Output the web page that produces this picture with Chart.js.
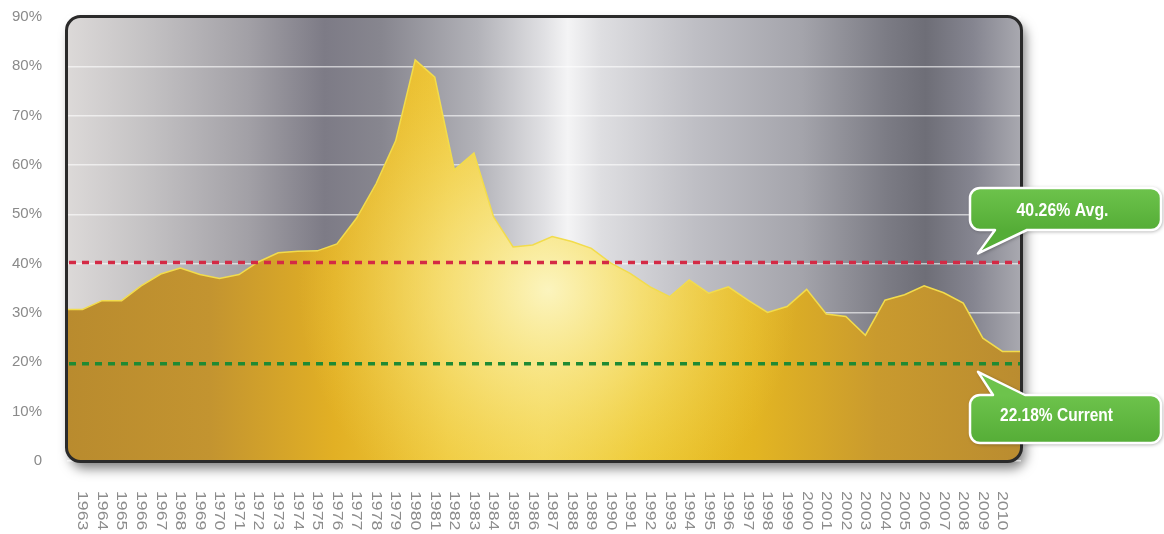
<!DOCTYPE html>
<html>
<head>
<meta charset="utf-8">
<title>Rate history 1963-2010</title>
<script src="https://cdn.jsdelivr.net/npm/chart.js@4.4.0/dist/chart.umd.min.js"></script>
<style>
  html, body { margin: 0; padding: 0; background: #fff; }
  #wrap { width: 1164px; height: 534px; }
</style>
</head>
<body>
<div id="wrap"><canvas id="chart" width="1164" height="534"></canvas></div>
<script>
const years = [1963, 1964, 1965, 1966, 1967, 1968, 1969, 1970, 1971, 1972,
  1973, 1974, 1975, 1976, 1977, 1978, 1979, 1980, 1981, 1982,
  1983, 1984, 1985, 1986, 1987, 1988, 1989, 1990, 1991, 1992,
  1993, 1994, 1995, 1996, 1997, 1998, 1999, 2000, 2001, 2002,
  2003, 2004, 2005, 2006, 2007, 2008, 2009, 2010];

const values = [30.7, 32.5, 32.5, 35.5, 37.9, 39.1, 37.8, 37.0, 37.8, 40.4,
  42.2, 42.5, 42.6, 44.0, 49.2, 56.2, 64.9, 81.3, 77.8, 59.0,
  62.4, 49.5, 43.4, 43.8, 45.5, 44.5, 43.1, 40.1, 38.0, 35.3,
  33.3, 36.7, 34.0, 35.3, 32.6, 30.1, 31.3, 34.8, 29.8, 29.3,
  25.5, 32.6, 33.7, 35.5, 34.1, 32.0, 24.9, 22.2];

const yTickValues = [0, 10, 20, 30, 40, 50, 60, 70, 80, 90];
const yTickLabels = ['0', '10%', '20%', '30%', '40%', '50%', '60%', '70%', '80%', '90%'];

const avgLevel = 40.26;
const avgLabel = '40.26% Avg.';
const currentLevel = 19.7;
const currentLabel = '22.18% Current';

// x range runs a bit past the first and last year so the area fills the panel
const X_MIN = 1962.21;
const X_MAX = 2010.95;

const points = years.map((yr, i) => ({ x: yr, y: values[i] }));
const areaPoints = [{ x: X_MIN, y: values[0] }, ...points, { x: X_MAX, y: values[values.length - 1] }];

const FONT = '"Liberation Sans", Arial, sans-serif';

function roundRectPath(ctx, x, y, w, h, r) {
  ctx.beginPath();
  ctx.moveTo(x + r, y);
  ctx.arcTo(x + w, y, x + w, y + h, r);
  ctx.arcTo(x + w, y + h, x, y + h, r);
  ctx.arcTo(x, y + h, x, y, r);
  ctx.arcTo(x, y, x + w, y, r);
  ctx.closePath();
}

function panelRect(a) {
  return { x: a.left - 0.5, y: a.top - 0.5, w: a.right - a.left + 1, h: a.bottom - a.top + 1, r: 14 };
}

function bgGradient(ctx, a) {
  const g = ctx.createLinearGradient(a.left, 0, a.right, 0);
  g.addColorStop(0.0, '#dcd9d8');
  g.addColorStop(0.09, '#c2c0c2');
  g.addColorStop(0.19, '#a2a0a6');
  g.addColorStop(0.27, '#7d7b86');
  g.addColorStop(0.33, '#87868f');
  g.addColorStop(0.43, '#b2b2b8');
  g.addColorStop(0.5, '#e0e0e3');
  g.addColorStop(0.525, '#f4f4f5');
  g.addColorStop(0.56, '#dedee1');
  g.addColorStop(0.66, '#bebec4');
  g.addColorStop(0.77, '#a4a4ab');
  g.addColorStop(0.86, '#7b7b84');
  g.addColorStop(0.9, '#6e6e77');
  g.addColorStop(0.95, '#858590');
  g.addColorStop(1.0, '#a9a9b0');
  return g;
}

function goldGradient(context) {
  const chart = context.chart;
  const a = chart.chartArea;
  if (!a) return '#d9a82a';
  const g = chart.ctx.createLinearGradient(a.left, 0, a.right, 0);
  g.addColorStop(0.0, '#b98b2e');
  g.addColorStop(0.15, '#c39430');
  g.addColorStop(0.28, '#e2b024');
  g.addColorStop(0.4, '#efc83a');
  g.addColorStop(0.5, '#f2d24a');
  g.addColorStop(0.6, '#ecc52a');
  g.addColorStop(0.72, '#e3b522');
  g.addColorStop(0.85, '#c99a2e');
  g.addColorStop(1.0, '#ba8c30');
  return g;
}

function glowGradient(context) {
  const chart = context.chart;
  const a = chart.chartArea;
  if (!a) return 'transparent';
  const g = chart.ctx.createRadialGradient(548, 290, 0, 548, 290, 250);
  g.addColorStop(0, 'rgba(252, 246, 196, 0.95)');
  g.addColorStop(0.45, 'rgba(250, 236, 150, 0.55)');
  g.addColorStop(1, 'rgba(245, 220, 90, 0)');
  return g;
}

// speech bubble with the tail on the top or bottom edge
function bubble(ctx, b) {
  const { x, y, w, h, r, t1, t2, tipX, tipY, side } = b;
  ctx.beginPath();
  ctx.moveTo(x + r, y);
  if (side === 'top') {
    ctx.lineTo(t1, y);
    ctx.lineTo(tipX, tipY);
    ctx.lineTo(t2, y);
  }
  ctx.arcTo(x + w, y, x + w, y + h, r);
  ctx.arcTo(x + w, y + h, x, y + h, r);
  if (side === 'bottom') {
    ctx.lineTo(t2, y + h);
    ctx.lineTo(tipX, tipY);
    ctx.lineTo(t1, y + h);
  }
  ctx.arcTo(x, y + h, x, y, r);
  ctx.arcTo(x, y, x + w, y, r);
  ctx.closePath();

  ctx.save();
  const g = ctx.createLinearGradient(0, y, 0, y + h);
  g.addColorStop(0, '#6dc34c');
  g.addColorStop(1, '#55ad37');
  ctx.fillStyle = g;
  ctx.shadowColor = 'rgba(0,0,0,0.45)';
  ctx.shadowBlur = 4;
  ctx.shadowOffsetX = 1;
  ctx.shadowOffsetY = 1;
  ctx.fill();
  ctx.restore();
  ctx.lineWidth = 2.5;
  ctx.strokeStyle = '#ffffff';
  ctx.lineJoin = 'round';
  ctx.stroke();

  ctx.save();
  ctx.font = 'bold 18px "Liberation Sans Narrow", "Liberation Sans", Arial, sans-serif';
  ctx.fillStyle = '#ffffff';
  ctx.textAlign = 'center';
  ctx.textBaseline = 'middle';
  const m = ctx.measureText(b.text).width;
  ctx.translate(b.cx, b.cy);
  ctx.scale(b.textW / m, 1);
  ctx.fillText(b.text, 0, 0);
  ctx.restore();
}

const panelPlugin = {
  id: 'panel',
  beforeDraw(chart) {
    const { ctx, chartArea: a } = chart;
    const p = panelRect(a);
    ctx.save();
    ctx.shadowColor = 'rgba(0,0,0,0.5)';
    ctx.shadowBlur = 12;
    ctx.shadowOffsetX = 4;
    ctx.shadowOffsetY = 7;
    roundRectPath(ctx, p.x, p.y, p.w, p.h, p.r);
    ctx.fillStyle = bgGradient(ctx, a);
    ctx.fill();
    ctx.restore();
  },
  beforeDatasetsDraw(chart) {
    const { ctx, chartArea: a } = chart;
    const p = panelRect(a);
    ctx.save();
    roundRectPath(ctx, p.x, p.y, p.w, p.h, p.r);
    ctx.clip();
  },
  afterDatasetsDraw(chart) {
    const { ctx, chartArea: a, scales } = chart;
    ctx.restore();

    // reference lines
    const lines = [[avgLevel, '#d42a45'], [currentLevel, '#1f8a33']];
    ctx.save();
    ctx.lineWidth = 3.5;
    ctx.setLineDash([7, 6]);
    lines.forEach(([v, c]) => {
      const y = scales.y.getPixelForValue(v);
      ctx.strokeStyle = c;
      ctx.beginPath();
      ctx.moveTo(a.left + 2, y);
      ctx.lineTo(a.right, y);
      ctx.stroke();
    });
    ctx.restore();

    // frame
    const p = panelRect(a);
    ctx.save();
    roundRectPath(ctx, p.x, p.y, p.w, p.h, p.r);
    ctx.lineWidth = 3;
    ctx.strokeStyle = '#2a2a2a';
    ctx.stroke();
    ctx.restore();
  },
  afterDraw(chart) {
    const { ctx, scales } = chart;

    // year labels, reading top to bottom
    ctx.save();
    ctx.font = '15px ' + FONT;
    ctx.fillStyle = '#8c8c8c';
    ctx.textAlign = 'left';
    ctx.textBaseline = 'middle';
    years.forEach(yr => {
      const x = scales.x.getPixelForValue(yr);
      ctx.save();
      ctx.translate(x, 491);
      ctx.rotate(Math.PI / 2);
      ctx.scale(1.18, 1);
      ctx.fillText(String(yr), 0, 0);
      ctx.restore();
    });
    ctx.restore();

    const yAvg = scales.y.getPixelForValue(avgLevel);
    const yCur = scales.y.getPixelForValue(currentLevel);
    bubble(ctx, { x: 970, y: 188, w: 191, h: 42, r: 10, t1: 995, t2: 1027, tipX: 978, tipY: yAvg - 9,
      side: 'bottom', text: avgLabel, cx: 1062.5, cy: 211, textW: 92 });
    bubble(ctx, { x: 970, y: 395, w: 191, h: 48, r: 10, t1: 993, t2: 1025, tipX: 978, tipY: yCur + 8,
      side: 'top', text: currentLabel, cx: 1056.5, cy: 416, textW: 113 });
  }
};

new Chart(document.getElementById('chart'), {
  type: 'line',
  data: {
    datasets: [
      {
        data: areaPoints,
        fill: 'origin',
        backgroundColor: glowGradient,
        borderColor: '#f2dc4c',
        borderWidth: 1.5,
        pointRadius: 0,
        tension: 0,
        order: 1
      },
      {
        data: areaPoints,
        fill: 'origin',
        backgroundColor: goldGradient,
        borderWidth: 0,
        pointRadius: 0,
        tension: 0,
        order: 2
      }
    ]
  },
  options: {
    responsive: false,
    animation: false,
    layout: { padding: { left: 0, right: 143, top: 17, bottom: 73 } },
    plugins: { legend: { display: false }, tooltip: { enabled: false } },
    scales: {
      x: { type: 'linear', min: X_MIN, max: X_MAX, display: false },
      y: {
        min: 0,
        max: 90,
        afterBuildTicks: s => { s.ticks = yTickValues.map(v => ({ value: v })); },
        afterFit: s => { s.width = 67; s.paddingTop = 0; s.paddingBottom = 0; },
        border: { display: false },
        grid: { color: 'rgba(255,255,255,0.6)', lineWidth: 1.5, drawTicks: false },
        ticks: {
          padding: 25,
          color: '#8a8a8a',
          font: { family: FONT, size: 15 },
          callback: v => yTickLabels[yTickValues.indexOf(v)]
        }
      }
    }
  },
  plugins: [panelPlugin]
});
</script>
</body>
</html>
